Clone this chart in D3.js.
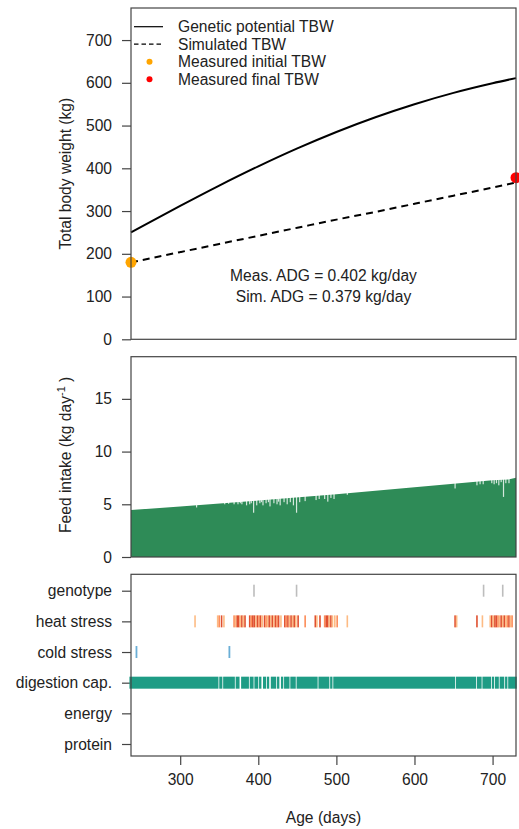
<!DOCTYPE html>
<html>
<head>
<meta charset="utf-8">
<script src="https://cdn.jsdelivr.net/npm/d3@7"></script>
<style>
  body { margin: 0; background: #fff; }
  svg text { font-family: "Liberation Sans", Arial, sans-serif; fill: #222; }
</style>
</head>
<body>
<svg id="chart" width="519" height="829"></svg>
<script>
// ---- data ----
const ageRange = [237, 730]
const xTicks = [300, 400, 500, 600, 700]

// genetic potential / simulated total body weight (kg)
const potentialDays = [237, 250, 300, 350, 400, 450, 500, 550, 600, 650, 700, 730]
const potentialTBW = [250, 263, 312, 359.5, 404.5, 446.5, 485, 519.5, 550, 576.5, 599, 611]
const simDays = [237, 300, 350, 400, 450, 500, 550, 600, 650, 700, 730]
const simTBW = [180, 204, 223, 242, 261, 280, 298, 317, 336, 355, 367]
const measuredInitial = [237, 180]
const measuredFinal = [730, 378]
const adgLabels = ['Meas. ADG = 0.402 kg/day', 'Sim. ADG = 0.379 kg/day']

// feed intake (kg/day): upper trend + days where intake dropped
const intakeDays = [237, 300, 400, 500, 600, 700, 720, 730]
const intakeTrend = [4.45, 4.8, 5.35, 5.95, 6.62, 7.28, 7.36, 7.52]
const intakeDips = [
    [321, 4.7], [357, 5.0], [362, 5.05], [369, 5.0], [374, 5.0], [377, 5.1], [379, 5.0],
    [385, 4.9], [389, 5.0], [391, 5.1], [394, 4.2], [398, 4.9], [402, 5.1], [404, 5.2],
    [406, 4.9], [410, 5.1], [413, 5.2], [415, 4.8], [420, 5.1], [424, 5.0], [426, 5.25],
    [428, 4.9], [433, 5.2], [437, 5.0], [441, 5.2], [445, 4.9], [449, 4.2], [453, 5.2],
    [460, 5.3], [474, 5.4], [478, 5.5], [485, 5.5], [489, 5.25], [493, 5.6], [497, 5.5],
    [514, 5.9], [652, 6.5], [680, 6.8], [684, 6.9], [688, 6.9], [699, 7.0], [702, 6.9],
    [705, 7.0], [708, 6.8], [711, 7.1], [714, 5.7], [717, 7.0], [721, 7.0]
]

// limiting factors
const factors = ['genotype', 'heat stress', 'cold stress', 'digestion cap.', 'energy', 'protein']
const genotypeDays = [394.5, 449, 688.5, 713]
const coldDays = [244, 363]
// [day, level 1..3]
const heatDays = [
    [319, 1], [348, 1], [350, 2], [353, 3], [356, 1],
    [369, 2], [371, 1], [373, 3], [375, 3], [377, 1], [379, 3], [381, 1], [383, 3],
    [389, 3], [391, 2], [393, 3], [395, 3], [397, 1], [399, 3], [401, 2], [403, 3], [405, 1],
    [408, 3], [410, 2], [412, 1], [414, 3], [416, 1], [418, 3], [420, 1], [422, 3], [424, 2], [426, 3], [429, 1],
    [434, 3], [436, 2], [438, 3], [440, 1], [442, 3], [444, 1], [446, 3], [448, 1], [451, 3],
    [460, 2], [473, 3], [475, 1], [479, 3],
    [485, 2], [487, 3], [489, 3], [491, 1], [493, 3], [495, 1], [498, 1], [501, 2], [514, 1],
    [652, 3], [654, 1], [680, 3], [687, 1],
    [697, 1], [699, 3], [701, 1], [703, 3], [705, 3], [707, 2], [709, 1], [711, 3], [713, 1],
    [715, 3], [717, 1], [719, 2], [721, 3], [723, 1], [725, 2]
]
// [start, end] day ranges limited by digestion capacity
const digestionRanges = [
    [235, 349], [350, 354], [355, 370], [371, 376], [378, 388], [389, 394], [395, 400], [401, 404],
    [406, 410], [411, 414], [416, 423], [424, 427], [429, 432], [433, 440], [441, 448], [449, 476],
    [477, 491], [492, 495], [496, 652], [653, 679], [680, 686], [687, 698], [699, 702], [703, 708],
    [709, 715], [716, 719], [720, 731]
]

const heatColor = { 1: '#fdbb84', 2: '#fc8d59', 3: '#e0502f' }

// ---- layout ----
const svg = d3.select('#chart')
const left = 131, right = 516
const p1 = { top: 8, bottom: 339.3 }
const p2 = { top: 356.7, bottom: 557 }
const p3 = { top: 574.3, bottom: 756 }
const axisColor = '#444'
const fontSize = '15.6px'

const x = d3.scaleLinear().domain(ageRange).range([left, right])
const y1 = d3.scaleLinear().domain([0, 775]).range([p1.bottom, p1.top])
const y2 = d3.scaleLinear().domain([0, 19]).range([p2.bottom, p2.top])
const y3 = d3.scalePoint().domain(factors).range([590.7, 744])

function leftAxis(scale, ticks) {
    let g = svg.append('g').attr('transform', `translate(${left},0)`)
        .call(d3.axisLeft(scale).tickValues(ticks).tickSize(9).tickPadding(10).tickSizeOuter(0))
    g.select('.domain').remove()
    g.selectAll('line').attr('stroke', axisColor).attr('stroke-width', 1.2)
    g.selectAll('text').style('font-size', fontSize).style('font-family', null).attr('fill', '#222')
    return g
}

function box(p) {
    svg.append('rect')
        .attr('x', left).attr('y', p.top).attr('width', right - left).attr('height', p.bottom - p.top)
        .attr('fill', 'none').attr('stroke', axisColor).attr('stroke-width', 1.2)
}

function yTitle(cy, txt) {
    return svg.append('text')
        .attr('transform', `translate(66,${cy}) rotate(-90)`)
        .attr('text-anchor', 'middle').attr('dy', '0.35em')
        .style('font-size', fontSize).text(txt)
}

// ---- panel 1: body weight ----
leftAxis(y1, [0, 100, 200, 300, 400, 500, 600, 700])
yTitle((p1.top + p1.bottom) / 2, 'Total body weight (kg)')

let line1 = d3.line().x(d => x(d[0])).y(d => y1(d[1])).curve(d3.curveMonotoneX)
svg.append('path')
    .datum(d3.zip(potentialDays, potentialTBW))
    .attr('d', line1).attr('fill', 'none').attr('stroke', '#000').attr('stroke-width', 2)
svg.append('path')
    .datum(d3.zip(simDays, simTBW))
    .attr('d', line1).attr('fill', 'none').attr('stroke', '#000').attr('stroke-width', 2)
    .attr('stroke-dasharray', '7,5')

svg.append('circle').attr('cx', x(measuredInitial[0])).attr('cy', y1(measuredInitial[1]))
    .attr('r', 5.5).attr('fill', 'orange')
svg.append('circle').attr('cx', x(measuredFinal[0])).attr('cy', y1(measuredFinal[1]))
    .attr('r', 5.5).attr('fill', 'red')

adgLabels.forEach((t, i) => {
    svg.append('text')
        .attr('x', (left + right) / 2).attr('y', y1(150 - i * 50)).attr('dy', '0.35em')
        .attr('text-anchor', 'middle').style('font-size', fontSize).text(t)
})

// legend
const legendItems = [
    { label: 'Genetic potential TBW', type: 'line' },
    { label: 'Simulated TBW', type: 'dash' },
    { label: 'Measured initial TBW', type: 'point', color: 'orange' },
    { label: 'Measured final TBW', type: 'point', color: 'red' }
]
legendItems.forEach((item, i) => {
    let ly = 26.7 + i * 17.5
    if (item.type === 'point') {
        svg.append('circle').attr('cx', 149.5).attr('cy', ly).attr('r', 3).attr('fill', item.color)
    } else {
        svg.append('line').attr('x1', 134).attr('x2', 163).attr('y1', ly).attr('y2', ly)
            .attr('stroke', '#000').attr('stroke-width', 1.2)
            .attr('stroke-dasharray', item.type === 'dash' ? '4.5,3' : null)
    }
    svg.append('text').attr('x', 178).attr('y', ly).attr('dy', '0.35em')
        .style('font-size', fontSize).text(item.label)
})
box(p1)

// ---- panel 2: feed intake ----
leftAxis(y2, [0, 5, 10, 15])
let ft = yTitle((p2.top + p2.bottom) / 2 - 2, null)
ft.append('tspan').text('Feed intake (kg day')
ft.append('tspan').attr('baseline-shift', 'super').style('font-size', '11px').text('-1')
ft.append('tspan').text(' )')

svg.append('path')
    .datum(d3.zip(intakeDays, intakeTrend))
    .attr('d', d3.area().x(d => x(d[0])).y0(y2(0)).y1(d => y2(d[1])))
    .attr('fill', '#2e8b57')
svg.selectAll('.dip').data(intakeDips).enter().append('rect')
    .attr('x', d => x(d[0]) - 0.6).attr('width', 1.2)
    .attr('y', y2(19)).attr('height', d => y2(d[1]) - y2(19))
    .attr('fill', '#fff').attr('opacity', 0.8)
box(p2)

// ---- panel 3: limiting factors ----
leftAxis(y3, factors)
const barH = 12

svg.selectAll('.dig').data(digestionRanges).enter().append('rect')
    .attr('x', d => x(d[0])).attr('width', d => x(d[1]) - x(d[0]))
    .attr('y', y3('digestion cap.') - barH / 2).attr('height', barH)
    .attr('fill', '#1e9c85')
svg.selectAll('.heat').data(heatDays).enter().append('rect')
    .attr('x', d => x(d[0]) - 0.8).attr('width', 1.6)
    .attr('y', y3('heat stress') - barH / 2).attr('height', barH)
    .attr('fill', d => heatColor[d[1]])
svg.selectAll('.cold').data(coldDays).enter().append('rect')
    .attr('x', d => x(d) - 0.9).attr('width', 1.8)
    .attr('y', y3('cold stress') - barH / 2).attr('height', barH)
    .attr('fill', '#6aaed6')
svg.selectAll('.geno').data(genotypeDays).enter().append('rect')
    .attr('x', d => x(d) - 0.8).attr('width', 1.6)
    .attr('y', y3('genotype') - barH / 2).attr('height', barH)
    .attr('fill', '#bdbdbd')
box(p3)

// x axis
let gx = svg.append('g').attr('transform', `translate(0,${p3.bottom})`)
    .call(d3.axisBottom(x).tickValues(xTicks).tickSize(9).tickPadding(9).tickSizeOuter(0))
gx.select('.domain').remove()
gx.selectAll('line').attr('stroke', axisColor).attr('stroke-width', 1.2)
gx.selectAll('text').style('font-size', fontSize).style('font-family', null).attr('fill', '#222')

svg.append('text')
    .attr('x', (left + right) / 2).attr('y', 818).attr('dy', '0.35em')
    .attr('text-anchor', 'middle').style('font-size', fontSize).text('Age (days)')
</script>
</body>
</html>
